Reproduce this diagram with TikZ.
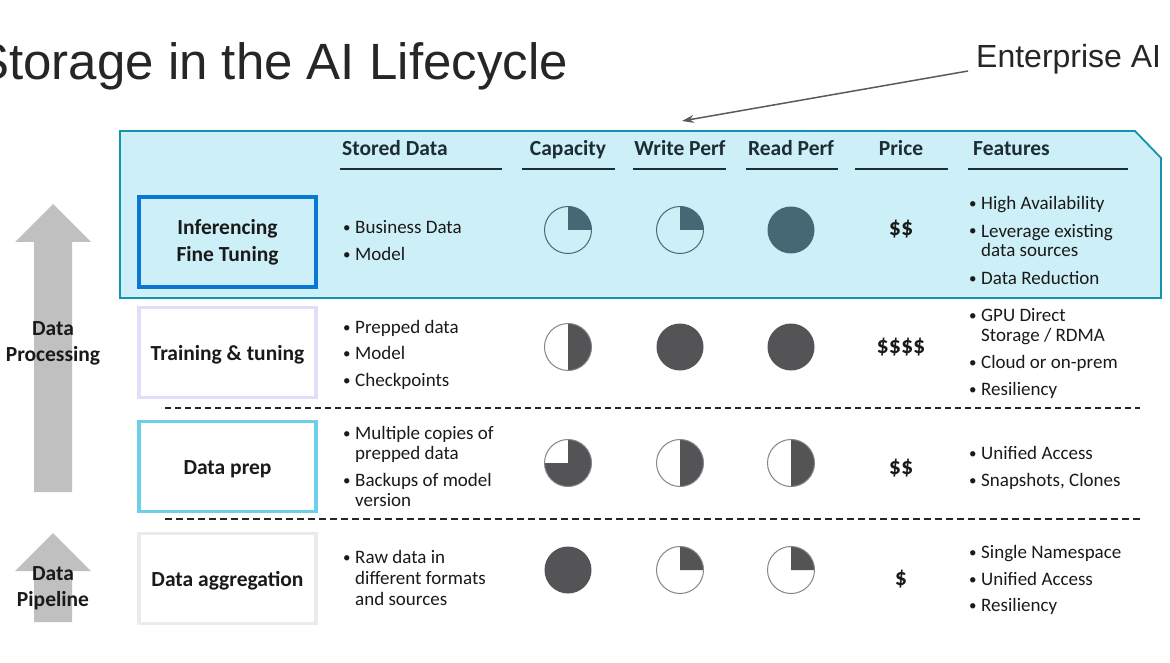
\documentclass[tikz,border=0pt]{standalone}
\usepackage{fontspec}
\setmainfont{Carlito}
\newfontfamily\arialfont{Liberation Sans}
\usetikzlibrary{arrows.meta}
\definecolor{boxfill}{HTML}{CDEFF7}
\definecolor{boxline}{HTML}{1492AE}
\definecolor{infline}{HTML}{0A78D2}
\definecolor{trainline}{HTML}{E4DCF9}
\definecolor{prepline}{HTML}{6DCFE9}
\definecolor{aggline}{HTML}{EBEBEB}
\definecolor{arrowgray}{HTML}{C0C0C0}
\definecolor{pieteal}{HTML}{466874}
\definecolor{piegray}{HTML}{545456}
\definecolor{pieout}{HTML}{858585}
\definecolor{txt}{HTML}{1A1A1A}
\definecolor{hdr}{HTML}{1D2D33}
\definecolor{titlecol}{HTML}{262626}
\definecolor{pointer}{HTML}{5A5A5A}
\tikzset{
  btxt/.style={anchor=base west, inner sep=0pt, text=txt, font=\fontsize{19}{22}\selectfont},
  bdot/.style={anchor=base west, inner sep=0pt, text=txt, font=\fontsize{15}{18}\selectfont},
  hdrtxt/.style={anchor=base, inner sep=0pt, text=hdr, font=\bfseries\fontsize{21.5}{24}\selectfont},
  lbltxt/.style={anchor=base, inner sep=0pt, text=txt, font=\bfseries\fontsize{21.5}{24}\selectfont},
  pricetxt/.style={anchor=base, inner sep=0pt, text=txt, font=\bfseries\fontsize{24}{26}\selectfont},
  hline/.style={draw=hdr, line width=1.5pt},
  stagebox/.style={draw, line width=3.5pt, minimum width=177pt, minimum height=90pt, inner sep=0pt},
  pfill/.style={fill=piegray},
  pline/.style={draw=pieout, line width=1pt},
  pics/pieq/.style={code={
    \fill[pfill] (0,0) -- (23.5,0) arc[start angle=0,end angle=-90,radius=23.5] -- cycle;
    \draw[pline] (0,0) circle[radius=23.5];}},
  pics/pieh/.style={code={
    \fill[pfill] (0,0) -- (0,-23.5) arc[start angle=-90,end angle=90,radius=23.5] -- cycle;
    \draw[pline] (0,0) circle[radius=23.5];}},
  pics/piet/.style={code={
    \fill[pfill] (0,0) -- (0,-23.5) arc[start angle=-90,end angle=180,radius=23.5] -- cycle;
    \draw[pline] (0,0) circle[radius=23.5];}},
  pics/pief/.style={code={
    \fill[pfill] (0,0) circle[radius=23.5];}},
  bigarrow/.style={fill=arrowgray, draw=none},
  sep1/.style={draw=black!85, line width=1.2pt, dash pattern=on 6pt off 4pt},
  sep2/.style={draw=black!85, line width=2.6pt, dash pattern=on 7pt off 4pt},
}
\newcommand\bul[3]{\node[bdot] at (#1,#2-1) {\textbullet}; \node[btxt] at (#1+12,#2) {#3};}
\newcommand\cnt[3]{\node[btxt] at (#1+12,#2) {#3};}
\begin{document}
\begin{tikzpicture}[x=1pt,y=-1pt]
\useasboundingbox (0,0) rectangle (1170,663);
\fill[white] (0,0) rectangle (1170,663);

% title
\node[anchor=base east, inner sep=0pt, text=titlecol, font=\arialfont\fontsize{51}{60}\selectfont] (title) at (568,80) {Storage in the AI Lifecycle};
\node[anchor=base west, inner sep=0pt, text=titlecol, font=\arialfont\fontsize{32}{36}\selectfont] (ent) at (976,68) {Enterprise AI};
\coordinate (entfoot) at (968,71);
\coordinate (enttip) at (682,121);
\draw[pointer, line width=1.5pt, -{Stealth[length=12pt,width=8pt]}] (entfoot) -- (enttip);

% enterprise band
\draw[draw=boxline, fill=boxfill, line width=1.8pt] (120,131) -- (1135,131) -- (1161,158) -- (1161,298) -- (120,298) -- cycle;

% headers
\node[hdrtxt, anchor=base west] (hstored) at (342,156) {Stored Data};
\node[hdrtxt] (hcap) at (568,156) {Capacity};
\node[hdrtxt] (hwrite) at (680,156) {Write Perf};
\node[hdrtxt] (hread) at (791,156) {Read Perf};
\node[hdrtxt] (hprice) at (901,156) {Price};
\node[hdrtxt, anchor=base west] (hfeat) at (973,156) {Features};
\draw[hline] (340,169) -- (502,169);
\draw[hline] (522,169) -- (615,169);
\draw[hline] (633,169) -- (726,169);
\draw[hline] (746,169) -- (838,169);
\draw[hline] (855,169) -- (948,169);
\draw[hline] (968,169) -- (1128,169);

% left arrows
\fill[bigarrow] (34,492) -- (34,242) -- (15,242) -- (53,204) -- (91,242) -- (72,242) -- (72,492) -- cycle;
\fill[bigarrow] (34,622) -- (34,571) -- (15,571) -- (53,533) -- (91,571) -- (72,571) -- (72,622) -- cycle;
\node[lbltxt] (dp1) at (53,335) {Data};
\node[lbltxt] (dp2) at (53,361.5) {Processing};
\node[lbltxt] (pl1) at (53,580) {Data};
\node[lbltxt] (pl2) at (53,606) {Pipeline};

% stage boxes
\node[stagebox, draw=infline] (inf) at (227.5,242) {};
\node[lbltxt] at (227.5,235) {Inferencing};
\node[lbltxt] at (227.5,261.5) {Fine Tuning};
\node[stagebox, draw=trainline] (train) at (227.5,352.5) {};
\node[lbltxt] at (227.5,360) {Training \& tuning};
\node[stagebox, draw=prepline] (prep) at (227.5,466.5) {};
\node[lbltxt] at (227.5,474) {Data prep};
\node[stagebox, draw=aggline] (agg) at (227.5,578.5) {};
\node[lbltxt] at (227.5,586) {Data aggregation};

% separators
\draw[sep1] (165,408) -- (1140,408);
\draw[sep2] (165,519) -- (1140,519);

% row 1
\bul{343}{234}{Business Data}
\bul{343}{260}{Model}
\begin{scope}[pfill/.style={fill=pieteal}, pline/.style={draw=pieteal, line width=1pt}]
\pic at (568,230) {pieq};
\pic at (680,230) {pieq};
\pic at (791,230) {pief};
\end{scope}
\node[pricetxt] (p1) at (901,236) {\$\$};
\bul{969}{210}{High Availability}
\bul{969}{237}{Leverage existing}
\cnt{969}{257}{data sources}
\bul{969}{284}{Data Reduction}

% row 2
\bul{343}{333}{Prepped data}
\bul{343}{359}{Model}
\bul{343}{386}{Checkpoints}
\pic at (568,347) {pieh};
\pic at (680,347) {pief};
\pic at (791,347) {pief};
\node[pricetxt] (p2) at (901,353) {\$\$\$\$};
\bul{969}{321}{GPU Direct}
\cnt{969}{341}{Storage / RDMA}
\bul{969}{368}{Cloud or on-prem}
\bul{969}{395}{Resiliency}

% row 3
\bul{343}{439}{Multiple copies of}
\cnt{343}{459}{prepped data}
\bul{343}{486}{Backups of model}
\cnt{343}{506}{version}
\pic at (568,463) {piet};
\pic at (680,463) {pieh};
\pic at (791,463) {pieh};
\node[pricetxt] (p3) at (901,474) {\$\$};
\bul{969}{459}{Unified Access}
\bul{969}{486}{Snapshots, Clones}

% row 4
\bul{343}{563}{Raw data in}
\cnt{343}{584}{different formats}
\cnt{343}{605}{and sources}
\pic at (568,570) {pief};
\pic at (680,570) {pieq};
\pic at (791,570) {pieq};
\node[pricetxt] (p4) at (901,585) {\$};
\bul{969}{558}{Single Namespace}
\bul{969}{585}{Unified Access}
\bul{969}{611}{Resiliency}
\end{tikzpicture}
\end{document}
